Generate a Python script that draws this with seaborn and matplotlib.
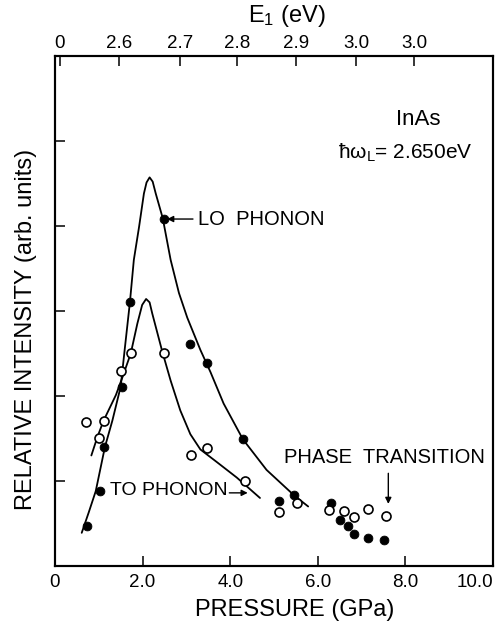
import matplotlib
matplotlib.use("Agg")
import matplotlib.pyplot as plt
import numpy as np
import pandas as pd
import seaborn as sns

# Measured Raman intensities of InAs vs. pressure
lo_pressure = [0.74, 1.02, 1.11, 1.52, 1.71, 2.48, 3.09, 3.48, 4.29, 5.11, 5.46,
               6.30, 6.50, 6.69, 6.83, 7.14, 7.52]
lo_intensity = [0.47, 0.88, 1.40, 2.10, 3.10, 4.08, 2.61, 2.39, 1.49, 0.76, 0.84,
                0.74, 0.54, 0.47, 0.38, 0.33, 0.30]

to_pressure = [0.70, 1.11, 1.00, 1.51, 1.73, 2.48, 3.11, 3.48, 4.34, 5.11, 5.52,
               6.26, 6.59, 6.83, 7.14, 7.55]
to_intensity = [1.69, 1.71, 1.50, 2.29, 2.50, 2.51, 1.30, 1.39, 1.00, 0.64, 0.74,
                0.66, 0.65, 0.58, 0.67, 0.59]

# Guide-to-the-eye resonance curves
lo_curve_p = [0.61, 0.77, 0.93, 1.14, 1.31, 1.50, 1.59, 1.71, 1.80, 1.92, 2.03, 2.09,
              2.16, 2.23, 2.30, 2.46, 2.64, 2.83, 3.02, 3.32, 3.55, 3.85, 4.29, 4.83,
              5.46, 5.78]
lo_curve_i = [0.39, 0.63, 0.88, 1.40, 1.71, 2.11, 2.54, 3.10, 3.60, 3.99, 4.38, 4.51,
              4.57, 4.52, 4.38, 4.09, 3.60, 3.21, 2.92, 2.54, 2.28, 1.91, 1.49, 1.13,
              0.83, 0.70]

to_curve_p = [0.83, 0.97, 1.11, 1.39, 1.54, 1.73, 1.88, 1.99, 2.08, 2.16, 2.22, 2.45,
              2.64, 2.86, 3.09, 3.32, 3.70, 4.15, 4.68]
to_curve_i = [1.30, 1.52, 1.71, 2.01, 2.22, 2.50, 2.85, 3.07, 3.14, 3.10, 2.97, 2.52,
              2.18, 1.83, 1.55, 1.37, 1.22, 1.04, 0.80]

# Pressure axis ticks and the laser-resonance energy scale on top
pressure_ticks = [0, 2, 4, 6, 8, 10]
pressure_labels = ["0", "2.0", "4.0", "6.0", "8.0", "10.0"]
energy_tick_pos = [0.11, 1.46, 2.85, 4.15, 5.51, 6.88, 8.20]
energy_labels = ["0", "2.6", "2.7", "2.8", "2.9", "3.0", "3.0"]
intensity_ticks = [1, 2, 3, 4, 5]

sns.set_theme(style="ticks")
FONT = ["Liberation Sans", "DejaVu Sans"]
plt.rcParams["font.family"] = FONT
plt.rcParams["mathtext.fontset"] = "custom"
plt.rcParams["mathtext.rm"] = "Liberation Sans"
plt.rcParams["mathtext.it"] = "Liberation Sans"
for key in ["text.color", "axes.labelcolor", "xtick.color", "ytick.color",
            "axes.edgecolor"]:
    plt.rcParams[key] = "black"

points = pd.concat([
    pd.DataFrame({"p": lo_pressure, "i": lo_intensity, "mode": "LO"}),
    pd.DataFrame({"p": to_pressure, "i": to_intensity, "mode": "TO"}),
])
curves = pd.concat([
    pd.DataFrame({"p": lo_curve_p, "i": lo_curve_i, "mode": "LO"}),
    pd.DataFrame({"p": to_curve_p, "i": to_curve_i, "mode": "TO"}),
])

fig = plt.figure(figsize=(5.0, 6.23), dpi=100)
ax = fig.add_axes([0.110, 0.0915, 0.876, 0.819])

for mode in ["LO", "TO"]:
    sns.lineplot(data=curves[curves["mode"] == mode], x="p", y="i", sort=False,
                 estimator=None, color="black", lw=1.3, ax=ax)

sns.scatterplot(data=points[points["mode"] == "LO"], x="p", y="i", ax=ax,
                color="black", edgecolor="black", s=40, linewidth=0.6, zorder=3)
sns.scatterplot(data=points[points["mode"] == "TO"], x="p", y="i", ax=ax,
                color="white", edgecolor="black", s=42, linewidth=1.2, zorder=3)

ax.set_xlim(0, 10)
ax.set_ylim(0, 6)

for side in ["left", "right", "top", "bottom"]:
    ax.spines[side].set_visible(True)
    ax.spines[side].set_linewidth(1.5)
    ax.spines[side].set_color("black")

ax.set_xticks(pressure_ticks)
ax.set_xticklabels(pressure_labels, fontsize=13.5)
ax.get_xticklabels()[-1].set_horizontalalignment("right")
ax.set_yticks(intensity_ticks)
ax.set_yticklabels([])
ax.tick_params(axis="both", direction="in", length=7, width=1.1, colors="black",
               pad=6, top=False, right=False)

ax.set_xlabel("PRESSURE (GPa)", fontsize=17)
ax.xaxis.set_label_coords(0.548, -0.086)
ax.xaxis.label.set_va("center")
ax.set_ylabel("RELATIVE INTENSITY (arb. units)", fontsize=17)
ax.yaxis.set_label_coords(-0.066, 0.463)
ax.yaxis.label.set_va("center")

top = ax.twiny()
top.set_xlim(ax.get_xlim())
top.set_xticks(energy_tick_pos)
top.set_xticklabels(energy_labels, fontsize=13.5)
top.tick_params(axis="x", direction="in", length=7, width=1.1, colors="black", pad=3)
for side in ["left", "right", "top", "bottom"]:
    top.spines[side].set_linewidth(1.5)
    top.spines[side].set_color("black")
top.set_xlabel("E$_1$ (eV)", fontsize=17)
top.xaxis.set_label_coords(0.53, 1.078)
top.xaxis.label.set_va("center")

# Labels and arrows
ax.text(8.3, 5.25, "InAs", fontsize=16, ha="center", va="center")
ax.text(8.0, 4.86, "ħω$_{\\rm L}$= 2.650eV", fontsize=15, ha="center", va="center")

ax.annotate("", xy=(2.56, 4.08), xytext=(3.15, 4.08),
            arrowprops=dict(arrowstyle="-|>", color="black", lw=1.0,
                            mutation_scale=9, shrinkA=0, shrinkB=0))
ax.text(3.26, 4.08, "LO  PHONON", fontsize=14.5, ha="left", va="center")

ax.text(3.95, 0.89, "TO PHONON", fontsize=14, ha="right", va="center")
ax.annotate("", xy=(4.40, 0.86), xytext=(3.98, 0.86),
            arrowprops=dict(arrowstyle="-|>", color="black", lw=1.0,
                            mutation_scale=9, shrinkA=0, shrinkB=0))

ax.text(7.52, 1.28, "PHASE  TRANSITION", fontsize=14.5, ha="center", va="center")
ax.annotate("", xy=(7.61, 0.73), xytext=(7.61, 1.09),
            arrowprops=dict(arrowstyle="-|>", color="black", lw=1.0,
                            mutation_scale=9, shrinkA=0, shrinkB=0))

fig.savefig("out.png", dpi=100, facecolor="white")
